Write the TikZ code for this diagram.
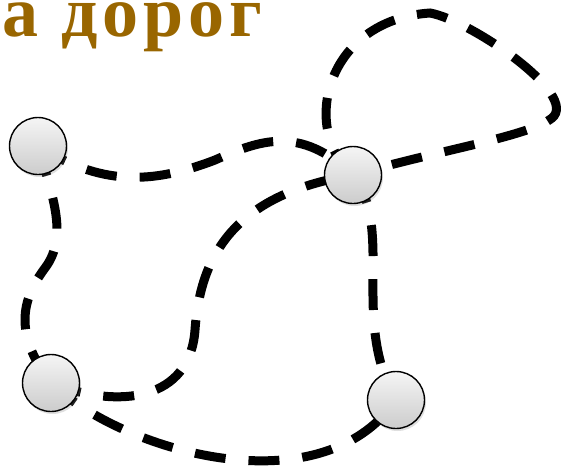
\documentclass[tikz,border=0pt]{standalone}
\usepackage{fontspec}
\newfontfamily\titlefont[LetterSpace=7]{Liberation Serif}
\usetikzlibrary{shapes,arrows,positioning,calc,backgrounds,shadows}
\definecolor{titlebrown}{RGB}{153,102,0}

\begin{document}
\begin{tikzpicture}[x=1pt, y=-1pt,
    city/.style={draw, circle, line width=1.4pt, minimum size=57pt, inner sep=0pt, top color=gray!8, bottom color=gray!40, drop shadow={opacity=0.25, shadow xshift=1.5pt, shadow yshift=-2.5pt}},
    road/.style={line width=9pt, dash pattern=on 31pt off 23pt}]
    \useasboundingbox (0,0) rectangle (566,475);
    \node [anchor=base west, inner sep=0pt, text=titlebrown, font=\titlefont\bfseries\fontsize{72}{72}\selectfont] (title) at (2,36) {а дорог};
    \node [city] (cityA) at (38,146) {};
    \node [city] (cityB) at (353,175) {};
    \node [city] (cityC) at (51,383) {};
    \node [city] (cityD) at (396,400) {};

    \begin{scope}[on background layer]
    \draw [road] (cityA.center) .. controls (100,185) and (150,185) .. (215,160) .. controls (260,140) and (300,125) .. (cityB.center);
    \draw [road] (cityB.center) .. controls (300,130) and (325,20) .. (430,13) .. controls (470,20) and (580,95) .. (552,118) .. controls (530,136) and (440,150) .. (cityB.center);
    \draw [road] (cityA.center) .. controls (50,190) and (70,235) .. (45,268) .. controls (25,295) and (10,330) .. (cityC.center);
    \draw [road] (cityC.center) .. controls (120,410) and (190,400) .. (195,330) .. controls (200,260) and (230,195) .. (cityB.center);
    \draw [road] (cityC.center) .. controls (120,450) and (320,510) .. (cityD.center);
    \draw [road] (cityB.center) .. controls (395,230) and (350,320) .. (cityD.center);
    \end{scope}
\end{tikzpicture}
\end{document}
